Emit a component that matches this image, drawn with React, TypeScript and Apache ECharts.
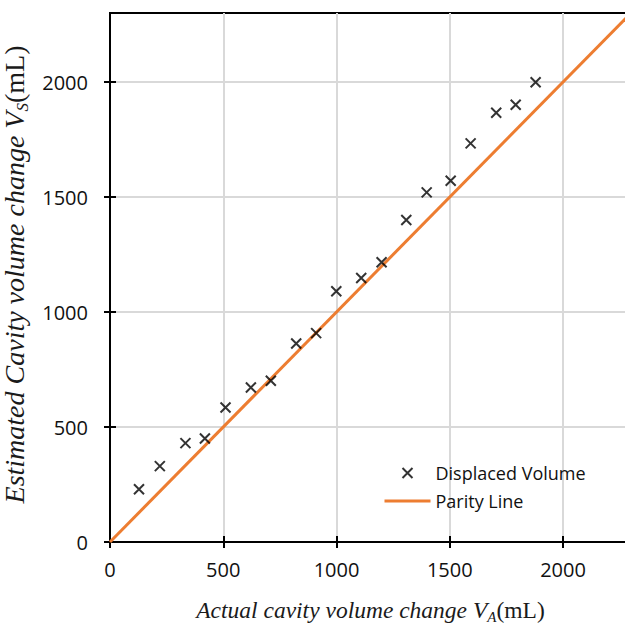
import React, { useEffect, useRef } from "react";
import * as echarts from "echarts";

const actualVolume = [128, 220, 333, 419, 510, 622, 710, 822, 910, 999, 1109, 1199, 1308, 1398, 1504, 1592, 1705, 1791, 1879];
const estimatedVolume = [229, 330, 430, 450, 585, 672, 701, 863, 908, 1090, 1148, 1216, 1400, 1520, 1571, 1733, 1866, 1901, 1999];
const parityX = [0, 2300];
const parityY = [0, 2300];
const tickValues = [0, 500, 1000, 1500, 2000];
const seriesNames = ["Displaced Volume", "Parity Line"];

const SANS = "'Open Sans', 'Noto Sans', sans-serif";
const SERIF = "'Liberation Serif', 'DejaVu Serif', serif";

const makeRich = (size: number, subSize: number) => ({
  i: { fontFamily: SERIF, fontStyle: "italic", fontSize: size, lineHeight: size + 6, color: "#1a1a1a" },
  sub: { fontFamily: SERIF, fontStyle: "italic", fontSize: subSize, lineHeight: subSize, verticalAlign: "bottom", color: "#1a1a1a" },
  n: { fontFamily: SERIF, fontSize: size, lineHeight: size + 6, color: "#1a1a1a" },
});

export default function App() {
  const ref = useRef<HTMLDivElement>(null);
  useEffect(() => {
    if (!ref.current) return;
    const chart = echarts.init(ref.current, undefined, { renderer: "svg" });
    const scatterData = actualVolume.map((x, i) => [x, estimatedVolume[i]]);
    const parityData = parityX.map((x, i) => [x, parityY[i]]);
    const baseAxis = (pos: string) => ({
      type: "value",
      min: 0,
      max: 2300,
      interval: 500,
      position: pos,
    });
    const fmt = (v: number) => String(v);
    chart.setOption({
      animation: false,
      backgroundColor: "#fff",
      grid: {
        left: 110,
        top: 13,
        right: -6,
        bottom: 88,
        containLabel: false,
        outerBoundsMode: "none",
        show: true,
        borderColor: "#000",
        borderWidth: 2,
        backgroundColor: "transparent",
      },
      legend: {
        orient: "vertical",
        left: 383,
        top: 463,
        padding: 0,
        itemWidth: 46,
        itemHeight: 10,
        itemGap: 8,
        textStyle: { fontFamily: SANS, fontSize: 18, color: "#111", lineHeight: 20 },
        data: [
          { name: seriesNames[0] },
          { name: seriesNames[1], itemStyle: { opacity: 0 }, lineStyle: { width: 3 } },
        ],
      },
      xAxis: [
        {
          ...baseAxis("bottom"),
          axisLine: { show: true, lineStyle: { color: "#000", width: 2 } },
          axisTick: { show: true, inside: false, length: 6, lineStyle: { color: "#000", width: 2 }, customValues: tickValues },
          axisLabel: { fontFamily: SANS, fontSize: 20, color: "#111", margin: 17, customValues: tickValues, formatter: fmt },
          splitLine: { show: true, lineStyle: { color: "#d9d9d9", width: 2 } },
          name: "{i|Actual cavity volume change V}{sub|A}{n|(mL)}",
          nameLocation: "middle",
          nameGap: 53,
          nameTextStyle: { rich: makeRich(23.5, 15) },
        },
        {
          ...baseAxis("bottom"),
          axisLine: { show: false },
          axisTick: { show: true, inside: true, length: 6, lineStyle: { color: "#000", width: 2 }, customValues: tickValues },
          axisLabel: { show: false },
          splitLine: { show: false },
        },
      ],
      yAxis: [
        {
          ...baseAxis("left"),
          axisLine: { show: true, lineStyle: { color: "#000", width: 2 } },
          axisTick: { show: true, inside: false, length: 6, lineStyle: { color: "#000", width: 2 }, customValues: tickValues },
          axisLabel: { fontFamily: SANS, fontSize: 20, color: "#111", margin: 22, customValues: tickValues, formatter: fmt },
          splitLine: { show: true, lineStyle: { color: "#d9d9d9", width: 2 } },
          name: "{i|Estimated Cavity volume change V}{sub|S}{n|(mL)}",
          nameLocation: "middle",
          nameGap: 63,
          nameRotate: 90,
          nameTextStyle: { rich: makeRich(28, 17), padding: [0, 0, 0, 6] },
        },
        {
          ...baseAxis("left"),
          axisLine: { show: false },
          axisTick: { show: true, inside: true, length: 6, lineStyle: { color: "#000", width: 2 }, customValues: tickValues },
          axisLabel: { show: false },
          splitLine: { show: false },
        },
      ],
      series: [
        {
          name: seriesNames[1],
          type: "line",
          data: parityData,
          symbol: "none",
          lineStyle: { color: "#ED7D31", width: 3 },
          itemStyle: { color: "#ED7D31" },
          z: 2,
        },
        {
          name: seriesNames[0],
          type: "scatter",
          data: scatterData,
          symbol: "path://M0,0L10,10M10,0L0,10",
          symbolSize: 10,
          itemStyle: { color: "transparent", borderColor: "#000", borderWidth: 2 },
          z: 3,
        },
      ],
    });
    return () => chart.dispose();
  }, []);
  return <div ref={ref} style={{ position: "absolute", left: 0, top: 0, width: 625, height: 630 }} />;
}
